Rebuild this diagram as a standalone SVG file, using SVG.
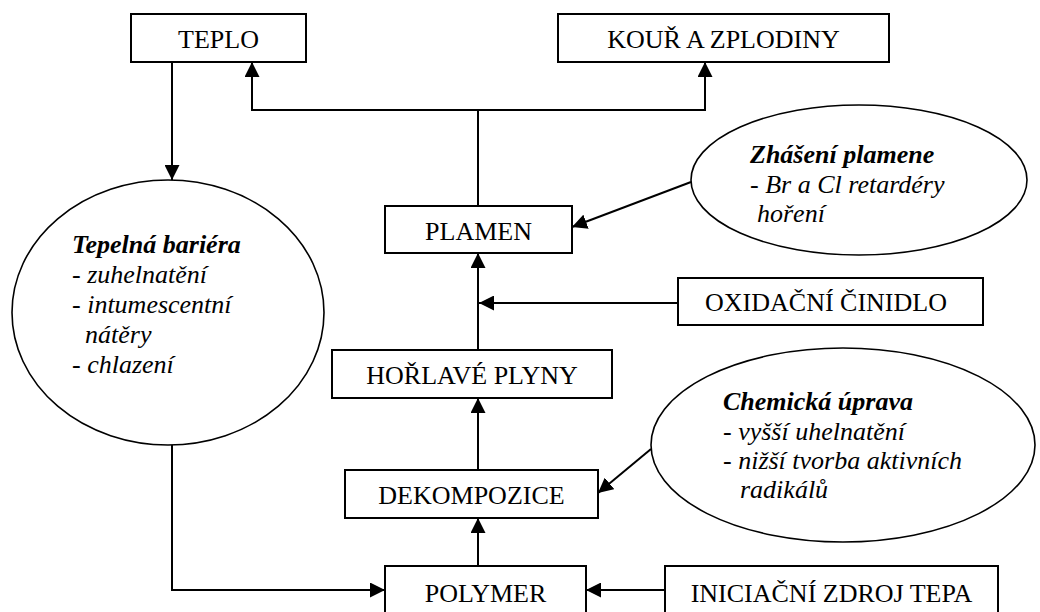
<svg xmlns="http://www.w3.org/2000/svg" width="1040" height="612" viewBox="0 0 1040 612">
  <defs>
    <marker id="arrow" markerUnits="userSpaceOnUse" markerWidth="15" markerHeight="15" refX="15" refY="7.5" orient="auto">
      <path d="M0,0 L15,7.5 L0,15 z" fill="#000"/>
    </marker>
    <style>
      .box { fill: #fff; stroke: #000; stroke-width: 2; }
      .oval { fill: #fff; stroke: #000; stroke-width: 1.6; }
      .lbl { font-family: "Liberation Serif", "Times New Roman", serif; font-size: 26px; fill: #000; text-anchor: middle; }
      .note { font-family: "Liberation Serif", "Times New Roman", serif; font-size: 26px; font-style: italic; fill: #000; }
      .head { font-weight: bold; }
      .wire { fill: none; stroke: #000; stroke-width: 2; }
    </style>
  </defs>

  <rect width="1040" height="612" fill="#fff"/>

  <!-- connectors -->
  <g id="connectors">
    <line class="wire" x1="478" y1="566" x2="478" y2="518" marker-end="url(#arrow)"/>
    <line class="wire" x1="478" y1="470" x2="478" y2="398" marker-end="url(#arrow)"/>
    <line class="wire" x1="478" y1="350" x2="478" y2="253" marker-end="url(#arrow)"/>
    <line class="wire" x1="678" y1="303" x2="479" y2="303" marker-end="url(#arrow)"/>
    <line class="wire" x1="478" y1="206" x2="478" y2="110"/>
    <polyline class="wire" points="478,110 252,110 252,62" marker-end="url(#arrow)"/>
    <polyline class="wire" points="478,110 705,110 705,62" marker-end="url(#arrow)"/>
    <line class="wire" x1="172" y1="62" x2="172" y2="180" marker-end="url(#arrow)"/>
    <polyline class="wire" points="172,445 172,590 385,590" marker-end="url(#arrow)"/>
    <line class="wire" x1="665" y1="590" x2="586" y2="590" marker-end="url(#arrow)"/>
    <line class="wire" x1="691" y1="182" x2="572" y2="227" marker-end="url(#arrow)"/>
    <line class="wire" x1="651" y1="449" x2="598" y2="493" marker-end="url(#arrow)"/>
  </g>

  <g id="teplo">
    <rect class="box" x="131" y="14" width="175" height="48"/>
    <text class="lbl" x="218.5" y="48">TEPLO</text>
  </g>

  <g id="kour">
    <rect class="box" x="558" y="14" width="331" height="48"/>
    <text class="lbl" x="723.5" y="48">KOUŘ A ZPLODINY</text>
  </g>

  <g id="plamen">
    <rect class="box" x="385" y="206" width="187" height="47"/>
    <text class="lbl" x="478.5" y="240">PLAMEN</text>
  </g>

  <g id="oxidacni">
    <rect class="box" x="678" y="278" width="305" height="47"/>
    <text class="lbl" x="826" y="311">OXIDAČNÍ ČINIDLO</text>
  </g>

  <g id="horlave">
    <rect class="box" x="332" y="350" width="280" height="48"/>
    <text class="lbl" x="472" y="384">HOŘLAVÉ PLYNY</text>
  </g>

  <g id="dekompozice">
    <rect class="box" x="345" y="470" width="253" height="48"/>
    <text class="lbl" x="471.5" y="504">DEKOMPOZICE</text>
  </g>

  <g id="polymer">
    <rect class="box" x="385" y="566" width="201" height="52"/>
    <text class="lbl" x="485.5" y="602">POLYMER</text>
  </g>

  <g id="iniciacni">
    <rect class="box" x="665" y="566" width="333" height="52"/>
    <text class="lbl" x="831.5" y="602">INICIAČNÍ ZDROJ TEPA</text>
  </g>

  <g id="tepelna">
    <ellipse class="oval" cx="168" cy="312.5" rx="156" ry="132.5"/>
    <text class="note head" x="72" y="253">Tepelná bariéra</text>
    <text class="note" x="72" y="283">- zuhelnatění</text>
    <text class="note" x="72" y="313">- intumescentní</text>
    <text class="note" x="85" y="343">nátěry</text>
    <text class="note" x="72" y="373">- chlazení</text>
  </g>

  <g id="zhaseni">
    <ellipse class="oval" cx="859" cy="180" rx="168" ry="75"/>
    <text class="note head" x="750" y="163">Zhášení plamene</text>
    <text class="note" x="750" y="193">- Br a Cl retardéry</text>
    <text class="note" x="757" y="222">hoření</text>
  </g>

  <g id="chemicka">
    <ellipse class="oval" cx="843" cy="445" rx="192" ry="97"/>
    <text class="note head" x="723" y="410">Chemická úprava</text>
    <text class="note" x="723" y="440">- vyšší uhelnatění</text>
    <text class="note" x="723" y="469">- nižší tvorba aktivních</text>
    <text class="note" x="740" y="498">radikálů</text>
  </g>
</svg>
